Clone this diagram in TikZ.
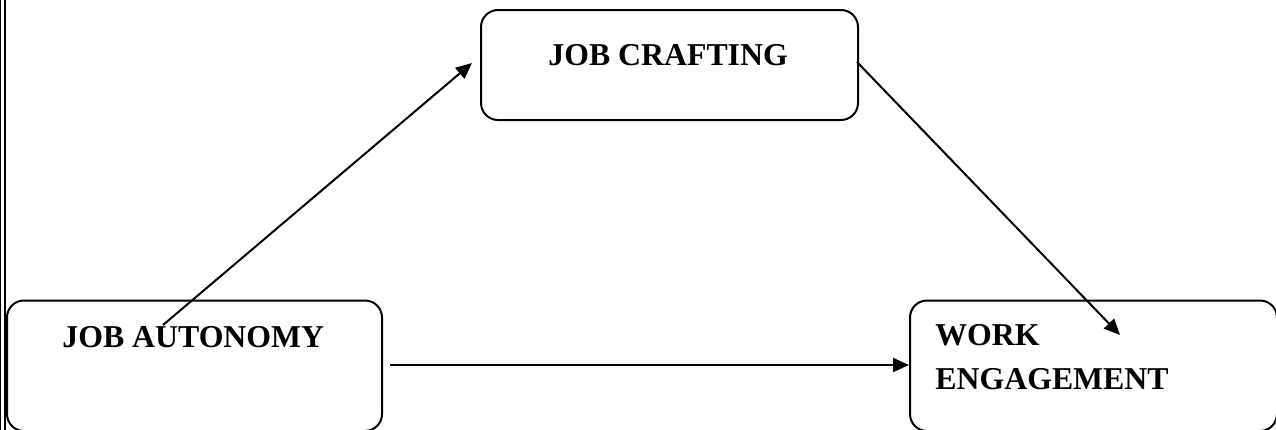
\documentclass[tikz,border=0pt]{standalone}
\usepackage{fontspec}
\setmainfont{Liberation Serif}
\usetikzlibrary{arrows.meta}
\begin{document}
\begin{tikzpicture}[x=0.5pt,y=-0.5pt,
  box/.style={draw=black,line width=1pt,rounded corners=8.5pt,inner sep=0pt},
  lbl/.style={anchor=base west,inner sep=0pt,font=\fontsize{15.9pt}{19pt}\selectfont\bfseries},
  conn/.style={line width=1pt,-{Triangle[length=8pt,width=7pt]}},
  edge/.style={line width=0.7pt}]
\useasboundingbox (0,0) rectangle (1276,429);
\clip (0,0) rectangle (1276,429);
% left double rule
\draw[edge] (0.8,-5) -- (0.8,435);
\draw[edge] (4.8,-5) -- (4.8,435);
% boxes
\node[box,minimum width=188.5pt,minimum height=55pt] (craft) at (669.5,65) {};
\node[box,minimum width=187.5pt,minimum height=65.25pt] (auto) at (194.5,365.75) {};
\node[box,minimum width=183.5pt,minimum height=65.25pt] (work) at (1093.5,365.75) {};
% labels
\node[lbl] (tcraft) at (548,65) {JOB CRAFTING};
\node[lbl] (tauto) at (62,347) {JOB AUTONOMY};
\node[lbl] (twork) at (935,345) {WORK};
\node[lbl] (teng) at (935,389) {ENGAGEMENT};
% connector end points
\coordinate (a1) at (163,325);
\coordinate (a2) at (472,63);
\coordinate (c1) at (857,62);
\coordinate (c2) at (1120,335);
\coordinate (h1) at (390,365);
\draw[conn] (a1) -- (a2);
\draw[conn] (c1) -- (c2);
\draw[conn] (h1) -- (work.west |- h1);
\end{tikzpicture}
\end{document}
